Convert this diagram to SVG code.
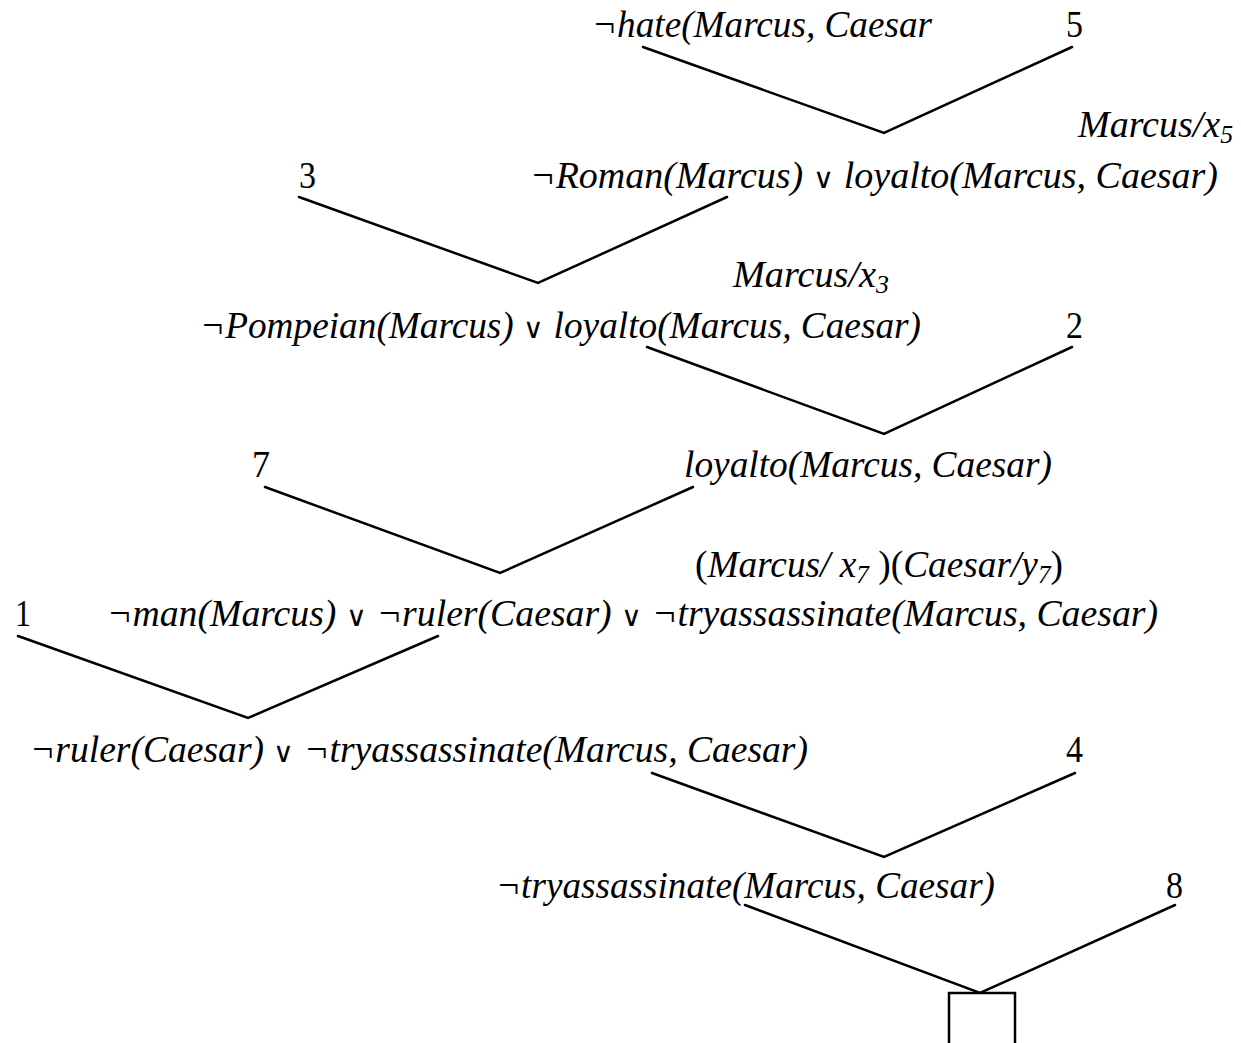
<svg xmlns="http://www.w3.org/2000/svg" width="1241" height="1043" viewBox="0 0 1241 1043">
<style>
text{font-family:"Liberation Serif","Times New Roman",serif;font-size:37px;fill:#000}
.it{font-style:italic}
.up{font-style:normal;font-size:28px}
.sub{font-size:25px}
.ln{stroke:#000;stroke-width:2.5;fill:none;stroke-linecap:round}
</style>
<rect width="1241" height="1043" fill="#fff"/>
<g id="connectors">
<polyline class="ln" points="643,47 884,133 1072,47"/>
<polyline class="ln" points="299,197 538,283 727,197"/>
<polyline class="ln" points="647,347 884,434 1072,347"/>
<polyline class="ln" points="265,487 500,573 693,487"/>
<polyline class="ln" points="18,636 248,718 438,636"/>
<polyline class="ln" points="652,773 884,857 1075,773"/>
<polyline class="ln" points="745,905 980,993 1175,905"/>
</g>
<g id="n_hate"><text class="it" x="592" y="37" textLength="340" lengthAdjust="spacingAndGlyphs">¬hate(Marcus, Caesar</text></g>
<g id="n_5"><text x="1066" y="37" textLength="17" lengthAdjust="spacingAndGlyphs">5</text></g>
<g id="s_5"><text class="it" x="1078" y="137" textLength="155" lengthAdjust="spacingAndGlyphs">Marcus/x<tspan class="sub" dy="6">5</tspan></text></g>
<g id="n_roman"><text class="it" x="530" y="188" textLength="688" lengthAdjust="spacingAndGlyphs">¬Roman(Marcus) <tspan class="up">∨</tspan> loyalto(Marcus, Caesar)</text></g>
<g id="n_3"><text x="299" y="188" textLength="17" lengthAdjust="spacingAndGlyphs">3</text></g>
<g id="s_3"><text class="it" x="733" y="287" textLength="156" lengthAdjust="spacingAndGlyphs">Marcus/x<tspan class="sub" dy="6">3</tspan></text></g>
<g id="n_pompeian"><text class="it" x="200" y="338" textLength="721" lengthAdjust="spacingAndGlyphs">¬Pompeian(Marcus) <tspan class="up">∨</tspan> loyalto(Marcus, Caesar)</text></g>
<g id="n_2"><text x="1066" y="338" textLength="17" lengthAdjust="spacingAndGlyphs">2</text></g>
<g id="n_7"><text x="252" y="477" textLength="18" lengthAdjust="spacingAndGlyphs">7</text></g>
<g id="n_loyalto"><text class="it" x="684" y="477" textLength="368" lengthAdjust="spacingAndGlyphs">loyalto(Marcus, Caesar)</text></g>
<g id="s_7"><text x="695" y="577" textLength="368" lengthAdjust="spacingAndGlyphs">(<tspan class="it">Marcus/ x</tspan><tspan class="it sub" dy="6">7</tspan><tspan dy="-6"> )(</tspan><tspan class="it">Caesar/y</tspan><tspan class="it sub" dy="6">7</tspan><tspan dy="-6">)</tspan></text></g>
<g id="n_1"><text x="15" y="626" textLength="16" lengthAdjust="spacingAndGlyphs">1</text></g>
<g id="n_man"><text class="it" x="107" y="626" textLength="1051" lengthAdjust="spacingAndGlyphs">¬man(Marcus) <tspan class="up">∨</tspan> ¬ruler(Caesar) <tspan class="up">∨</tspan> ¬tryassassinate(Marcus, Caesar)</text></g>
<g id="n_ruler"><text class="it" x="30" y="762" textLength="778" lengthAdjust="spacingAndGlyphs">¬ruler(Caesar) <tspan class="up">∨</tspan> ¬tryassassinate(Marcus, Caesar)</text></g>
<g id="n_4"><text x="1066" y="762" textLength="17" lengthAdjust="spacingAndGlyphs">4</text></g>
<g id="n_try"><text class="it" x="496" y="898" textLength="499" lengthAdjust="spacingAndGlyphs">¬tryassassinate(Marcus, Caesar)</text></g>
<g id="n_8"><text x="1166" y="898" textLength="17" lengthAdjust="spacingAndGlyphs">8</text></g>
<g id="n_empty"><rect x="949" y="993" width="66" height="52" fill="#fff" stroke="#000" stroke-width="2.5"/></g>
</svg>
